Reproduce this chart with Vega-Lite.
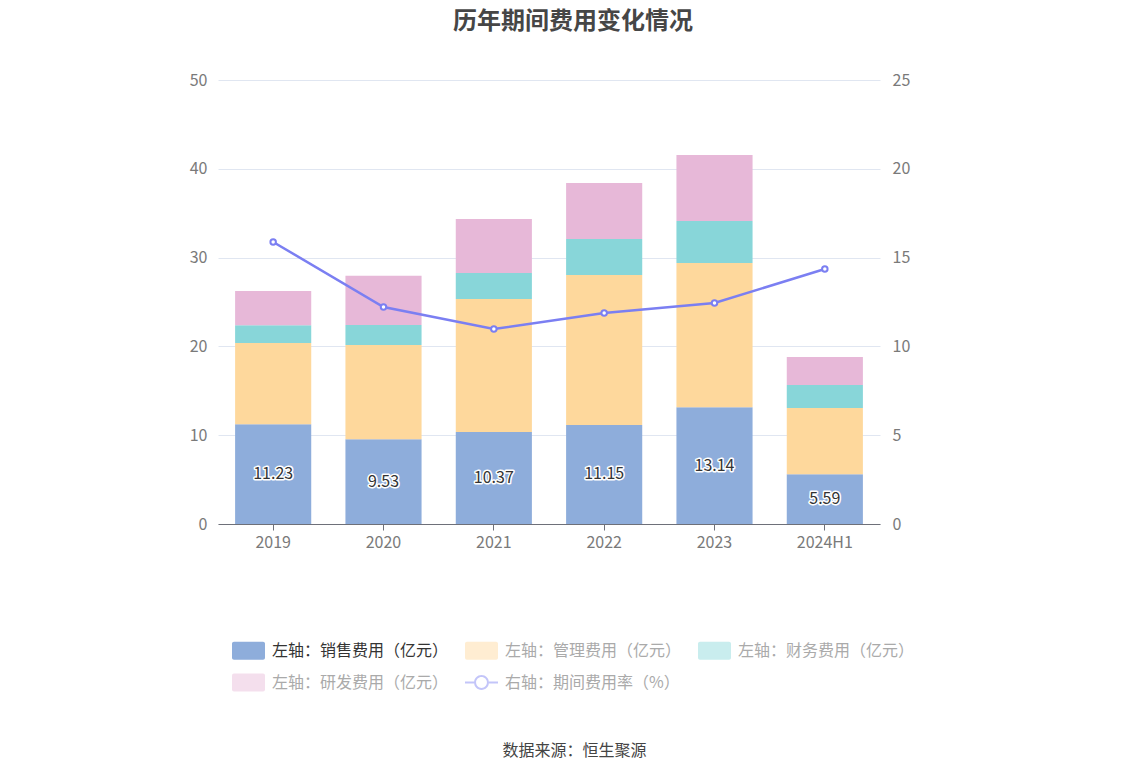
{
  "$schema": "https://vega.github.io/schema/vega-lite/v6.json",
  "width": 662,
  "height": 444,
  "autosize": "none",
  "padding": {"left": 218, "top": 80, "right": 268, "bottom": 252},
  "background": "white",
  "title": {
    "text": "历年期间费用变化情况",
    "fontSize": 24,
    "fontWeight": "bold",
    "color": "#464646",
    "anchor": "middle",
    "dx": 24,
    "offset": 38
  },
  "datasets": {
    "bars": [
      {"year": "2019", "type": "左轴：销售费用（亿元）", "value": 11.23},
      {"year": "2019", "type": "左轴：管理费用（亿元）", "value": 9.15},
      {"year": "2019", "type": "左轴：财务费用（亿元）", "value": 2.0},
      {"year": "2019", "type": "左轴：研发费用（亿元）", "value": 3.85},
      {"year": "2020", "type": "左轴：销售费用（亿元）", "value": 9.53},
      {"year": "2020", "type": "左轴：管理费用（亿元）", "value": 10.63},
      {"year": "2020", "type": "左轴：财务费用（亿元）", "value": 2.25},
      {"year": "2020", "type": "左轴：研发费用（亿元）", "value": 5.55},
      {"year": "2021", "type": "左轴：销售费用（亿元）", "value": 10.37},
      {"year": "2021", "type": "左轴：管理费用（亿元）", "value": 14.97},
      {"year": "2021", "type": "左轴：财务费用（亿元）", "value": 2.93},
      {"year": "2021", "type": "左轴：研发费用（亿元）", "value": 6.08},
      {"year": "2022", "type": "左轴：销售费用（亿元）", "value": 11.15},
      {"year": "2022", "type": "左轴：管理费用（亿元）", "value": 16.89},
      {"year": "2022", "type": "左轴：财务费用（亿元）", "value": 4.05},
      {"year": "2022", "type": "左轴：研发费用（亿元）", "value": 6.31},
      {"year": "2023", "type": "左轴：销售费用（亿元）", "value": 13.14},
      {"year": "2023", "type": "左轴：管理费用（亿元）", "value": 16.25},
      {"year": "2023", "type": "左轴：财务费用（亿元）", "value": 4.73},
      {"year": "2023", "type": "左轴：研发费用（亿元）", "value": 7.43},
      {"year": "2024H1", "type": "左轴：销售费用（亿元）", "value": 5.59},
      {"year": "2024H1", "type": "左轴：管理费用（亿元）", "value": 7.47},
      {"year": "2024H1", "type": "左轴：财务费用（亿元）", "value": 2.59},
      {"year": "2024H1", "type": "左轴：研发费用（亿元）", "value": 3.15}
    ],
    "rate": [
      {"year": "2019", "rate": 15.88},
      {"year": "2020", "rate": 12.22},
      {"year": "2021", "rate": 10.98},
      {"year": "2022", "rate": 11.88},
      {"year": "2023", "rate": 12.44},
      {"year": "2024H1", "rate": 14.36}
    ]
  },
  "encoding": {
    "x": {
      "field": "year",
      "type": "nominal",
      "sort": null,
      "scale": {"paddingInner": 0.31, "paddingOuter": 0.155},
      "axis": {
        "title": "数据来源：恒生聚源",
        "titleFontSize": 16,
        "titleFontWeight": "normal",
        "titleColor": "#444444",
        "titleX": 356,
        "titleY": 226,
        "titleAlign": "center",
        "titleBaseline": "middle",
        "labelAngle": 0,
        "labelFontSize": 16,
        "labelColor": "#7a7a7a",
        "labelPadding": 4,
        "tickSize": 6,
        "tickColor": "#6e7079",
        "domainColor": "#6e7079",
        "grid": false
      }
    }
  },
  "layer": [
    {
      "data": {"name": "bars"},
      "transform": [
        {"calculate": "indexof(['左轴：销售费用（亿元）','左轴：管理费用（亿元）','左轴：财务费用（亿元）','左轴：研发费用（亿元）'], datum.type)", "as": "ord"}
      ],
      "layer": [
        {
          "mark": {"type": "bar"},
          "encoding": {
            "y": {
              "field": "value",
              "type": "quantitative",
              "stack": "zero",
              "scale": {"domain": [0, 50]},
              "axis": {
                "title": null,
                "values": [0, 10, 20, 30, 40, 50],
                "labelFontSize": 16,
                "labelColor": "#7a7a7a",
                "labelPadding": 11,
                "ticks": false,
                "domain": false,
                "grid": true,
                "gridColor": "#e0e6f1"
              }
            },
            "order": {"field": "ord", "type": "quantitative"},
            "color": {
              "field": "type",
              "type": "nominal",
              "scale": {
                "domain": ["左轴：销售费用（亿元）", "左轴：管理费用（亿元）", "左轴：财务费用（亿元）", "左轴：研发费用（亿元）", "右轴：期间费用率（%）"],
                "range": ["#8eaddb", "#fed89c", "#88d6d9", "#e7b8d8", "#7b7ff2"]
              },
              "legend": {
                "title": null,
                "orient": "none",
                "legendX": 14,
                "legendY": 554,
                "direction": "horizontal",
                "columns": 3,
                "symbolSize": 1089,
                "symbolType": "M-0.88,-0.545H0.88A0.12,0.12 0 0 1 1,-0.425V0.425A0.12,0.12 0 0 1 0.88,0.545H-0.88A0.12,0.12 0 0 1 -1,0.425V-0.425A0.12,0.12 0 0 1 -0.88,-0.545Z",
                "labelFontSize": 16,
                "labelOffset": 7,
                "labelLimit": 300,
                "columnPadding": 16,
                "rowPadding": 6,
                "encode": {
                  "labels": {
                    "update": {
                      "fill": {"signal": "datum.value === '左轴：销售费用（亿元）' ? '#333333' : '#aaaaaa'"}
                    }
                  },
                  "symbols": {
                    "update": {
                      "shape": {"signal": "datum.value === '右轴：期间费用率（%）' ? 'M-1,-0.06H-0.45V0.06H-1Z M0.45,-0.06H1V0.06H0.45Z M0.45,0A0.45,0.45 0 1 0 -0.45,0A0.45,0.45 0 1 0 0.45,0Z M0.33,0A0.33,0.33 0 1 1 -0.33,0A0.33,0.33 0 1 1 0.33,0Z' : 'M-0.88,-0.545H0.88A0.12,0.12 0 0 1 1,-0.425V0.425A0.12,0.12 0 0 1 0.88,0.545H-0.88A0.12,0.12 0 0 1 -1,0.425V-0.425A0.12,0.12 0 0 1 -0.88,-0.545Z'"},
                      "fill": {"signal": "scale('color', datum.value)"},
                      "strokeWidth": {"value": 0},
                      "opacity": {"signal": "datum.value === '左轴：销售费用（亿元）' ? 1 : 0.45"}
                    }
                  }
                }
              }
            }
          }
        },
        {
          "transform": [
            {"filter": "datum.type === '左轴：销售费用（亿元）'"},
            {"calculate": "datum.value / 2", "as": "mid"}
          ],
          "mark": {"type": "text", "fontSize": 16, "stroke": "#ffffff", "strokeWidth": 3, "strokeJoin": "round", "fill": "#ffffff"},
          "encoding": {
            "y": {"field": "mid", "type": "quantitative"},
            "text": {"field": "value", "type": "quantitative", "format": ".2f"}
          }
        },
        {
          "transform": [
            {"filter": "datum.type === '左轴：销售费用（亿元）'"},
            {"calculate": "datum.value / 2", "as": "mid"}
          ],
          "mark": {"type": "text", "fontSize": 16, "fill": "#333333"},
          "encoding": {
            "y": {"field": "mid", "type": "quantitative"},
            "text": {"field": "value", "type": "quantitative", "format": ".2f"}
          }
        }
      ]
    },
    {
      "data": {"name": "rate"},
      "mark": {
        "type": "line",
        "strokeWidth": 2.5,
        "point": {"filled": false, "fill": "#ffffff", "size": 30, "strokeWidth": 2}
      },
      "encoding": {
        "y": {
          "field": "rate",
          "type": "quantitative",
          "scale": {"domain": [0, 25]},
          "axis": {
            "title": null,
            "orient": "right",
            "values": [0, 5, 10, 15, 20, 25],
            "labelFontSize": 16,
            "labelColor": "#7a7a7a",
            "labelPadding": 12,
            "ticks": false,
            "domain": false,
            "grid": false
          }
        },
        "color": {"datum": "右轴：期间费用率（%）", "type": "nominal"}
      }
    }
  ],
  "resolve": {"scale": {"y": "independent"}},
  "config": {
    "font": "Noto Sans CJK SC",
    "view": {"stroke": null}
  }
}
